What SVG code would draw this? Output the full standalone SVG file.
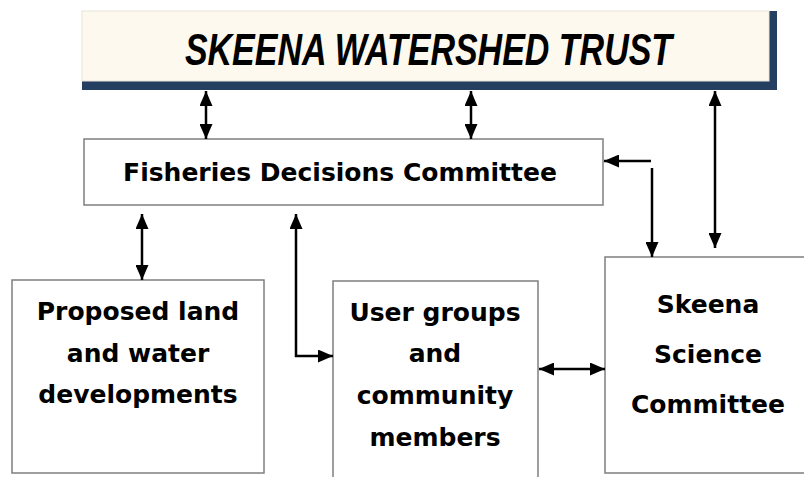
<svg xmlns="http://www.w3.org/2000/svg" width="804" height="477" viewBox="0 0 804 477">
<style>
.box{fill:#ffffff;stroke:#7f7f7f;stroke-width:1.5}
.lbl{font-family:"DejaVu Sans","Liberation Sans",sans-serif;font-weight:bold;font-size:25px;fill:#000;text-anchor:middle}
.title{font-family:"Liberation Sans",Arial,sans-serif;font-weight:bold;font-style:italic;font-size:34px;fill:#000;text-anchor:middle}
.con{stroke:#000;stroke-width:2.5;fill:none}
</style>
<defs>
<marker id="ah" markerUnits="userSpaceOnUse" markerWidth="15" markerHeight="13" refX="15" refY="6.5" orient="auto-start-reverse">
<path d="M0,0 L15,6.5 L0,13 z" fill="#000"/>
</marker>
</defs>
<rect width="804" height="477" fill="#ffffff"/>
<g id="trust">
<rect x="82" y="11" width="695" height="79" fill="#243f60"/>
<rect x="82" y="11" width="687" height="70" fill="#fef9ee" stroke="#e8e4da" stroke-width="1"/>
<text class="title" transform="translate(428.5,65) scale(1,1.3)" x="0" y="0">SKEENA WATERSHED TRUST</text>
</g>
<g id="fdc">
<rect class="box" x="84" y="139" width="519" height="66"/>
<text class="lbl" x="340" y="181">Fisheries Decisions Committee</text>
</g>
<g id="proposed">
<rect class="box" x="12" y="280" width="252" height="193"/>
<text class="lbl" x="138" y="320">Proposed land</text>
<text class="lbl" x="138" y="362">and water</text>
<text class="lbl" x="138" y="403">developments</text>
</g>
<g id="users">
<path class="box" d="M333,478 V281 H538 V478"/>
<text class="lbl" x="435" y="321">User groups</text>
<text class="lbl" x="435" y="362">and</text>
<text class="lbl" x="435" y="404">community</text>
<text class="lbl" x="435" y="446">members</text>
</g>
<g id="science">
<path class="box" d="M806,257 H605 V473 H806"/>
<text class="lbl" x="708" y="313">Skeena</text>
<text class="lbl" x="708" y="363">Science</text>
<text class="lbl" x="708" y="413">Committee</text>
</g>
<g id="connectors">
<line class="con" x1="206" y1="91" x2="206" y2="139" marker-start="url(#ah)" marker-end="url(#ah)"/>
<line class="con" x1="471" y1="91" x2="471" y2="139" marker-start="url(#ah)" marker-end="url(#ah)"/>
<line class="con" x1="715" y1="91" x2="715" y2="248" marker-start="url(#ah)" marker-end="url(#ah)"/>
<line class="con" x1="651" y1="161" x2="604" y2="161" stroke-width="3" marker-end="url(#ah)"/>
<line class="con" x1="652" y1="168" x2="652" y2="257" stroke-width="3" marker-end="url(#ah)"/>
<line class="con" x1="142" y1="214" x2="142" y2="280" marker-start="url(#ah)" marker-end="url(#ah)"/>
<path class="con" d="M296,214 V356 H333" marker-start="url(#ah)" marker-end="url(#ah)"/>
<line class="con" x1="539" y1="369" x2="605" y2="369" marker-start="url(#ah)" marker-end="url(#ah)"/>
</g>
</svg>
